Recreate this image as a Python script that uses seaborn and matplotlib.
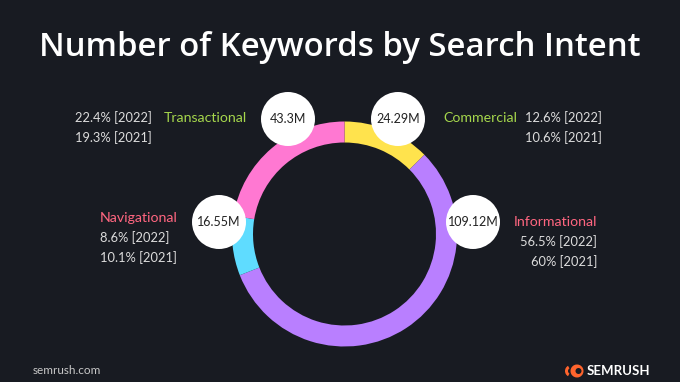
import matplotlib
matplotlib.use("Agg")
import matplotlib.pyplot as plt
import seaborn as sns
from matplotlib.patches import Circle, Wedge

# data
intents = ["Commercial", "Informational", "Navigational", "Transactional"]
volumes_m = [24.29, 109.12, 16.55, 43.3]
bubble_labels = ["24.29M", "109.12M", "16.55M", "43.3M"]
share_2022 = ["12.6% [2022]", "56.5% [2022]", "8.6% [2022]", "22.4% [2022]"]
share_2021 = ["10.6% [2021]", "60% [2021]", "10.1% [2021]", "19.3% [2021]"]
ring_colors = ["#ffe34d", "#b97fff", "#5fdcff", "#ff78d2"]

BG = "#181b22"
GREEN = "#a5d64c"
RED = "#ff6680"
GREY = "#dcdcdc"

sns.set_theme(style="dark")
plt.rcParams["font.family"] = ["Lato", "DejaVu Sans"]

W, H = 680, 382
fig = plt.figure(figsize=(6.8, 3.82), dpi=100, facecolor=BG)
ax = fig.add_axes([0, 0, 1, 1])
ax.set_facecolor(BG)


def y(p):
    # pixel row (from top) -> data y
    return H - p


cx, cy, r_out, ring_w = 344.5, y(234), 112.5, 21

ax.pie(volumes_m, colors=ring_colors, startangle=90, counterclock=False,
       center=(cx, cy), radius=r_out,
       wedgeprops=dict(width=ring_w, linewidth=0))

ax.set_xlim(0, W)
ax.set_ylim(0, H)
ax.set_aspect("equal")
ax.axis("off")

ax.text(W / 2, y(48), "Number of Keywords by Search Intent", color="white",
        fontsize=23.7, fontweight="semibold", family=["Open Sans", "DejaVu Sans"],
        ha="center", va="center")

# value bubbles
bubble_pos = [(398, 119), (473, 222), (219, 222), (288, 119)]
for (bx, by), lab in zip(bubble_pos, bubble_labels):
    ax.add_patch(Circle((bx, y(by)), 27, facecolor="white", edgecolor="none", zorder=3))
    ax.text(bx, y(by), lab, color="#222222", fontsize=9, ha="center", va="center", zorder=4)

fs = 9.3
fl = 10.2
# Commercial (right top)
ax.text(443, y(118), intents[0], color=GREEN, fontsize=fl, ha="left", va="center")
ax.text(602, y(118), share_2022[0], color=GREY, fontsize=fs, ha="right", va="center")
ax.text(602, y(138), share_2021[0], color=GREY, fontsize=fs, ha="right", va="center")
# Informational (right middle)
ax.text(597, y(222), intents[1], color=RED, fontsize=fl, ha="right", va="center")
ax.text(597, y(242), share_2022[1], color=GREY, fontsize=fs, ha="right", va="center")
ax.text(597, y(262), share_2021[1], color=GREY, fontsize=fs, ha="right", va="center")
# Navigational (left middle)
ax.text(100, y(218), intents[2], color=RED, fontsize=fl, ha="left", va="center")
ax.text(100, y(238), share_2022[2], color=GREY, fontsize=fs, ha="left", va="center")
ax.text(100, y(258), share_2021[2], color=GREY, fontsize=fs, ha="left", va="center")
# Transactional (left top)
ax.text(247, y(118), intents[3], color=GREEN, fontsize=fl, ha="right", va="center")
ax.text(75, y(118), share_2022[3], color=GREY, fontsize=fs, ha="left", va="center")
ax.text(75, y(138), share_2021[3], color=GREY, fontsize=fs, ha="left", va="center")

# footer
ax.text(33, y(371), "semrush.com", color="#c8c8c8", fontsize=8.5, ha="left", va="center")
ax.add_patch(Wedge((577, y(371)), 6.5, 0, 360, facecolor="#ff642d", edgecolor="none"))
ax.add_patch(Circle((578.5, y(371)), 3, facecolor=BG, edgecolor="none"))
ax.add_patch(Wedge((571, y(371)), 6, 120, 240, width=3, facecolor="#ff642d", edgecolor="none"))
ax.text(587, y(371), "SEMRUSH", color="white", fontsize=9.5, fontweight="bold",
        ha="left", va="center")

fig.savefig("out.png", dpi=100, facecolor=BG)
